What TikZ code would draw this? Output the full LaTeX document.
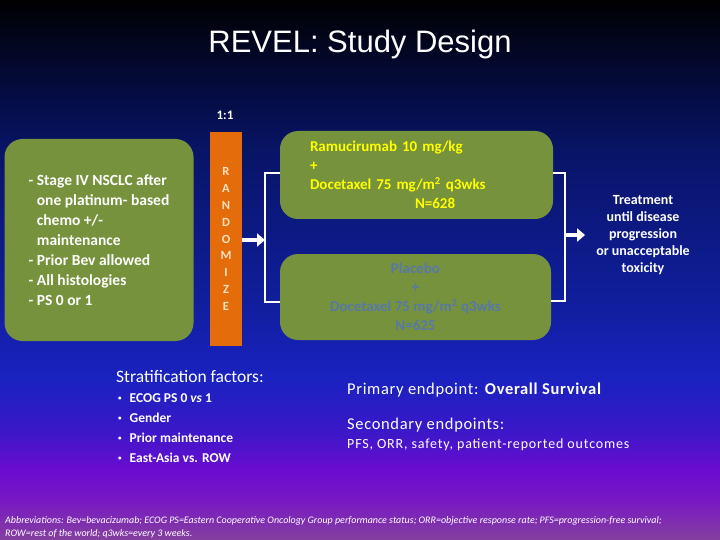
\documentclass[tikz,border=0pt]{standalone}
\usepackage{fontspec}
\setmainfont{Carlito}
\newfontfamily\titlefont{Liberation Sans}
\usetikzlibrary{arrows.meta}
\usepackage{xcolor}

\definecolor{armgreen}{HTML}{76923C}
\definecolor{randorange}{HTML}{E46C0A}
\definecolor{randletter}{HTML}{FBE3C2}
\definecolor{armyellow}{HTML}{FFFF00}
\definecolor{placeboblue}{HTML}{5878A8}
\definecolor{bgA}{HTML}{84409E}
\definecolor{bgB}{HTML}{7818C4}
\definecolor{bgC}{HTML}{6A0CD0}
\definecolor{bgD}{HTML}{3A18C8}
\definecolor{bgE}{HTML}{1A22C0}
\definecolor{bgF}{HTML}{101E9C}
\definecolor{bgG}{HTML}{081466}
\definecolor{bgH}{HTML}{040C40}
\pgfdeclareverticalshading{slidebg}{100bp}{color(0bp)=(bgA); color(25bp)=(bgA);
  color(28.7bp)=(bgB); color(31.5bp)=(bgC); color(35.2bp)=(bgD); color(39.8bp)=(bgE);
  color(47.2bp)=(bgF); color(61.1bp)=(bgG); color(66.7bp)=(bgH);
  color(75bp)=(black); color(100bp)=(black)}
\newcommand{\stratdot}{\raisebox{1.5pt}{\scriptsize\textbullet}\hspace{8pt}}

\begin{document}
\begin{tikzpicture}[
  x=1pt, y=-1pt,
  greenbox/.style={fill=armgreen, draw=none, rounded corners=18pt},
  randbar/.style={fill=randorange, draw=none, minimum width=32pt, minimum height=214pt,
                  inner sep=0pt, text=randletter, align=center,
                  font=\bfseries\fontsize{12.5}{16.8}\selectfont},
  conn/.style={draw=white, line width=2.2pt},
  arr/.style={draw=white, line width=3.5pt, -{Triangle[width=13pt, length=8pt]}},
  whitetext/.style={text=white, inner sep=0pt}
]
\useasboundingbox (0,0) rectangle (720,540);
\shade[shading=slidebg] (0,0) rectangle (720,540);

\node[whitetext, font=\titlefont\fontsize{31}{36}\selectfont] (title) at (360,44) {REVEL: Study Design};
\node[whitetext, font=\bfseries\fontsize{13}{16}\selectfont] (ratio) at (225,115) {1:1};

% eligibility and randomisation
\node[greenbox, minimum width=189pt, minimum height=202pt, text=white, align=left,
      font=\bfseries\fontsize{15.5}{20}\selectfont] (elig) at (99,240)
  {- Stage IV NSCLC after\\
   \phantom{-\ }one platinum- based\\
   \phantom{-\ }chemo +/-\\
   \phantom{-\ }maintenance\\
   - Prior Bev allowed\\
   - All histologies\\
   - PS 0 or 1};
\node[randbar] (rand) at (226,239) {R\\A\\N\\D\\O\\M\\I\\Z\\E};

% treatment arms
\node[greenbox, minimum width=273pt, minimum height=88pt, text width=213pt, inner xsep=30pt,
      align=left, text=armyellow, font=\bfseries\fontsize{15}{19}\selectfont] (armA) at (416.5,175)
  {Ramucirumab 10 mg/kg\\
   +\\
   Docetaxel 75 mg/m\textsuperscript{2} q3wks\\
   \hspace*{105pt}N=628};
\node[greenbox, minimum width=271pt, minimum height=86pt, align=center,
      text=placeboblue, font=\bfseries\fontsize{15}{19}\selectfont] (armB) at (415.5,297)
  {Placebo\\
   +\\
   Docetaxel 75 mg/m\textsuperscript{2} q3wks\\
   N=625};

\node[whitetext, align=center, font=\bfseries\fontsize{14}{17}\selectfont] (outcome) at (643,235)
  {Treatment\\until disease\\progression\\or unacceptable\\toxicity};

\coordinate (splitL) at (265,240);
\coordinate (mergeR) at (565,235);
\draw[conn] ([yshift=2pt]armA.west) -| (splitL) |- ([yshift=-5pt]armB.west);
\draw[arr] (rand.east |- splitL) -- (splitL);
\draw[conn] ([yshift=2pt]armA.east) -| (mergeR) |- ([yshift=-4pt]armB.east);
\draw[arr] (mergeR) -- ([xshift=-11pt]outcome.west |- mergeR);

% stratification and endpoints
\node[whitetext, anchor=west, font=\fontsize{17.5}{20}\selectfont] (strat) at (116,377) {Stratification factors:};
\node[whitetext, anchor=north west, align=left, font=\bfseries\fontsize{13.5}{20}\selectfont] (stratlist) at (118,393)
  {\stratdot ECOG PS 0 \textit{vs} 1\\
   \stratdot Gender\\
   \stratdot Prior maintenance\\
   \stratdot East-Asia vs. ROW};

\node[whitetext, anchor=west, font=\addfontfeatures{LetterSpace=4}\fontsize{16.5}{19}\selectfont] (primary) at (347,390)
  {Primary endpoint: \textbf{Overall Survival}};
\node[whitetext, anchor=west, font=\addfontfeatures{LetterSpace=4}\fontsize{16.5}{19}\selectfont] (secondary) at (347,425)
  {Secondary endpoints:};
\node[whitetext, anchor=west, font=\addfontfeatures{LetterSpace=6}\fontsize{14}{17}\selectfont] (seclist) at (347,445)
  {PFS, ORR, safety, patient-reported outcomes};

\node[whitetext, anchor=north west, align=left, font=\itshape\fontsize{10}{13}\selectfont] (abbrev) at (5,516)
  {Abbreviations: Bev=bevacizumab; ECOG PS=Eastern Cooperative Oncology Group performance status; ORR=objective response rate; PFS=progression-free survival;\\
   ROW=rest of the world; q3wks=every 3 weeks.};
\end{tikzpicture}
\end{document}
